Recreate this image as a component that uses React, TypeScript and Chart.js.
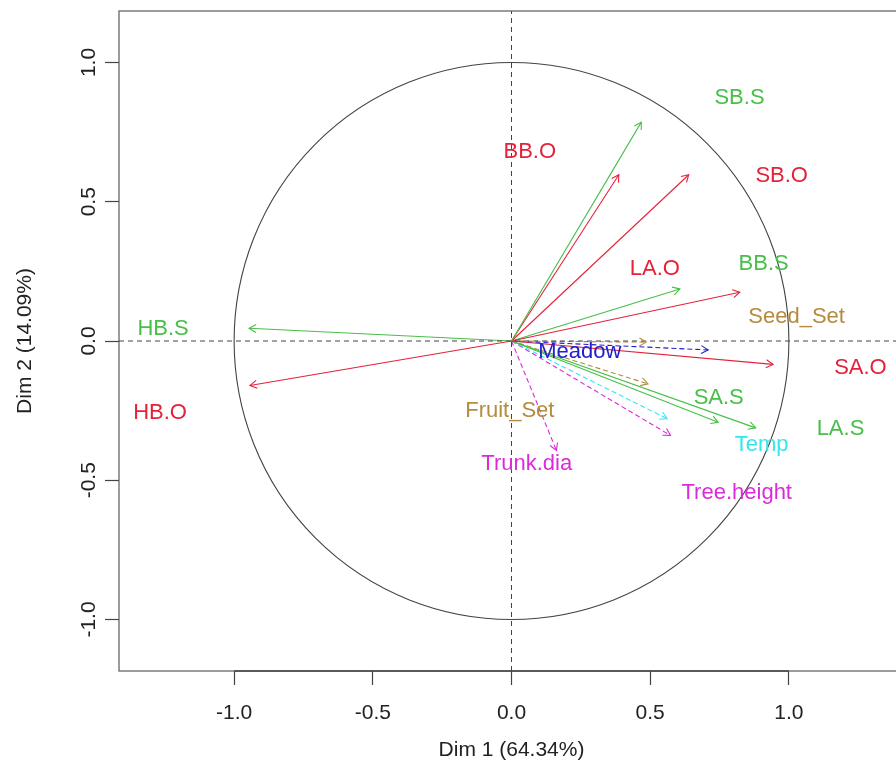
import React, { useEffect, useRef } from 'react';
import { Chart, registerables } from 'chart.js';

Chart.register(...registerables);

// ---- data ----
const variables = ['SB.S', 'BB.O', 'SB.O', 'LA.O', 'BB.S', 'Seed_Set', 'Meadow', 'SA.O', 'SA.S', 'LA.S', 'Temp', 'Tree.height', 'Trunk.dia', 'Fruit_Set', 'HB.S', 'HB.O'];
const dim1 = [0.468, 0.387, 0.639, 0.823, 0.607, 0.486, 0.709, 0.943, 0.745, 0.880, 0.561, 0.573, 0.162, 0.492, -0.946, -0.943];
const dim2 = [0.786, 0.597, 0.597, 0.175, 0.187, -0.004, -0.032, -0.084, -0.292, -0.312, -0.279, -0.339, -0.393, -0.154, 0.046, -0.160];
const labelDim1 = [0.822, 0.066, 0.974, 0.517, 0.909, 1.028, 0.246, 1.258, 0.747, 1.186, 0.902, 0.812, 0.055, -0.006, -1.256, -1.267];
const labelDim2 = [0.874, 0.680, 0.594, 0.260, 0.278, 0.088, -0.038, -0.095, -0.203, -0.314, -0.375, -0.544, -0.440, -0.250, 0.045, -0.257];
const groups = ['species', 'observer', 'observer', 'observer', 'species', 'tree', 'habitat', 'observer', 'species', 'species', 'climate', 'size', 'size', 'tree', 'species', 'observer'];
const tickValues = [-1, -0.5, 0, 0.5, 1];
const xTitle = 'Dim 1 (64.34%)';
const yTitle = 'Dim 2 (14.09%)';

// ---- styles ----
const groupColor: Record<string, string> = {
  species: '#48BF48',
  observer: '#E5223A',
  tree: '#B58B3E',
  habitat: '#2020CC',
  climate: '#35E6EC',
  size: '#DA2BDA',
};
const groupDashed: Record<string, boolean> = {
  species: false,
  observer: false,
  tree: true,
  habitat: true,
  climate: true,
  size: true,
};

const FONT = '"Liberation Sans", Arial, Helvetica, sans-serif';
const X_MIN = -1.415, X_MAX = 1.415, Y_MIN = -1.185, Y_MAX = 1.185;

const decorPlugin = {
  id: 'decor',
  beforeDatasetsDraw(chart: any) {
    const { ctx, chartArea, scales } = chart;
    const xs = scales.x, ys = scales.y;
    ctx.save();
    // box
    ctx.strokeStyle = '#5a5a5a';
    ctx.lineWidth = 1.2;
    ctx.strokeRect(chartArea.left, chartArea.top, chartArea.right - chartArea.left, chartArea.bottom - chartArea.top);
    // axis line between first and last ticks (bottom)
    ctx.strokeStyle = '#444';
    ctx.lineWidth = 1.4;
    ctx.beginPath();
    ctx.moveTo(xs.getPixelForValue(tickValues[0]), chartArea.bottom);
    ctx.lineTo(xs.getPixelForValue(tickValues[tickValues.length - 1]), chartArea.bottom);
    ctx.stroke();
    // unit circle
    const cx = xs.getPixelForValue(0), cy = ys.getPixelForValue(0);
    const rx = xs.getPixelForValue(1) - cx, ry = cy - ys.getPixelForValue(1);
    ctx.strokeStyle = '#444';
    ctx.lineWidth = 1.1;
    ctx.beginPath();
    ctx.ellipse(cx, cy, rx, ry, 0, 0, Math.PI * 2);
    ctx.stroke();
    ctx.restore();
  },
  afterDatasetsDraw(chart: any) {
    const { ctx, scales } = chart;
    const xs = scales.x, ys = scales.y;
    ctx.save();
    // arrowheads
    variables.forEach((_, i) => {
      const x0 = xs.getPixelForValue(0), y0 = ys.getPixelForValue(0);
      const x1 = xs.getPixelForValue(dim1[i]), y1 = ys.getPixelForValue(dim2[i]);
      const ang = Math.atan2(y1 - y0, x1 - x0);
      const len = 8, spread = Math.PI / 6;
      ctx.strokeStyle = groupColor[groups[i]];
      ctx.lineWidth = 1.1;
      ctx.setLineDash([]);
      ctx.beginPath();
      ctx.moveTo(x1 - len * Math.cos(ang - spread), y1 - len * Math.sin(ang - spread));
      ctx.lineTo(x1, y1);
      ctx.lineTo(x1 - len * Math.cos(ang + spread), y1 - len * Math.sin(ang + spread));
      ctx.stroke();
    });
    // labels
    ctx.font = `22px ${FONT}`;
    ctx.textAlign = 'center';
    ctx.textBaseline = 'middle';
    variables.forEach((name, i) => {
      ctx.fillStyle = groupColor[groups[i]];
      ctx.fillText(name, xs.getPixelForValue(labelDim1[i]), ys.getPixelForValue(labelDim2[i]));
    });
    ctx.restore();
  },
};

export default function App() {
  const ref = useRef<HTMLCanvasElement>(null);

  useEffect(() => {
    if (!ref.current) return;
    const datasets: any[] = [
      {
        data: [{ x: X_MIN, y: 0 }, { x: X_MAX, y: 0 }],
        borderColor: '#444', borderWidth: 1, borderDash: [5, 4], pointRadius: 0, showLine: true,
      },
      {
        data: [{ x: 0, y: Y_MIN }, { x: 0, y: Y_MAX }],
        borderColor: '#444', borderWidth: 1, borderDash: [5, 4], pointRadius: 0, showLine: true,
      },
    ];
    variables.forEach((name, i) => {
      const g = groups[i];
      datasets.push({
        label: name,
        data: [{ x: 0, y: 0 }, { x: dim1[i], y: dim2[i] }],
        borderColor: groupColor[g],
        borderWidth: 1.1,
        borderDash: groupDashed[g] ? [5, 3] : [],
        pointRadius: 0,
        showLine: true,
      });
    });

    const setTicks = (scale: any) => {
      scale.ticks = tickValues.map((v) => ({ value: v }));
    };

    const chart = new Chart(ref.current, {
      type: 'scatter',
      data: { datasets },
      plugins: [decorPlugin],
      options: {
        animation: false,
        responsive: false,
        layout: { padding: { top: 11, right: 16, left: 0, bottom: 0 } },
        plugins: { legend: { display: false }, tooltip: { enabled: false } },
        scales: {
          x: {
            type: 'linear',
            min: X_MIN,
            max: X_MAX,
            afterBuildTicks: setTicks,
            afterFit: (s: any) => { s.height = 109; },
            border: { display: false },
            grid: { drawOnChartArea: false, drawTicks: true, tickLength: 14, color: '#444', tickWidth: 1.2 },
            ticks: {
              autoSkip: false,
              padding: 16,
              color: '#222',
              font: { family: FONT, size: 21 },
              maxRotation: 0,
              callback: (v: any) => Number(v).toFixed(1),
            },
            title: {
              display: true,
              text: xTitle,
              color: '#222',
              font: { family: FONT, size: 21 },
              padding: { top: 0, bottom: 17 },
            },
          },
          y: {
            type: 'linear',
            min: Y_MIN,
            max: Y_MAX,
            afterBuildTicks: setTicks,
            afterFit: (s: any) => { s.width = 119; },
            border: { display: false },
            grid: { drawOnChartArea: false, drawTicks: true, tickLength: 14, color: '#444', tickWidth: 1.2 },
            ticks: {
              autoSkip: false,
              padding: -2,
              crossAlign: 'center',
              minRotation: 90,
              maxRotation: 90,
              color: '#222',
              font: { family: FONT, size: 21 },
              callback: (v: any) => Number(v).toFixed(1),
            },
            title: {
              display: true,
              text: yTitle,
              color: '#222',
              font: { family: FONT, size: 21 },
              padding: { top: 13, bottom: 0 },
            },
          },
        },
      } as any,
    });
    return () => chart.destroy();
  }, []);

  return (
    <div style={{ position: 'fixed', left: 0, top: 0, width: 896, height: 780, overflow: 'hidden', background: '#fff' }}>
      <canvas ref={ref} width={920} height={780} style={{ display: 'block', width: 920, height: 780 }} />
    </div>
  );
}
